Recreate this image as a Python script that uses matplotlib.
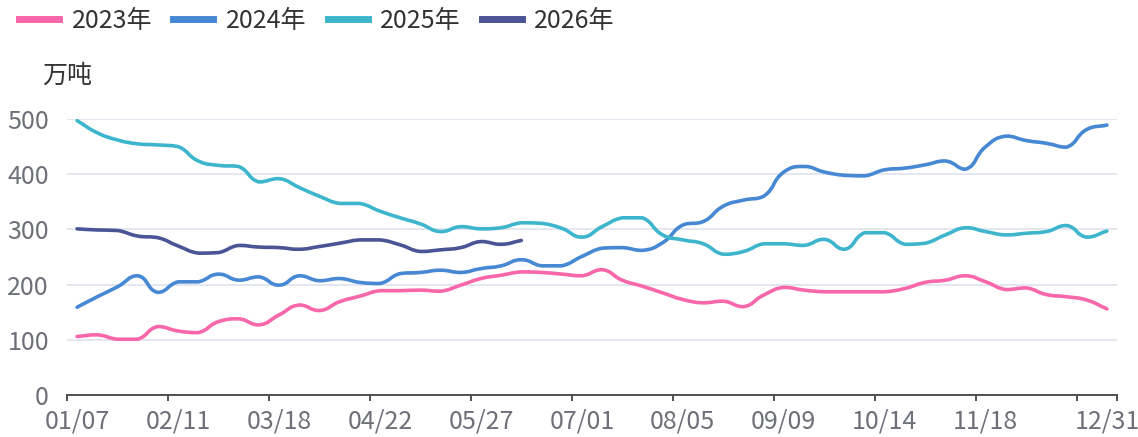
import matplotlib
matplotlib.use("Agg")
import matplotlib.pyplot as plt
from matplotlib.path import Path
from matplotlib.patches import PathPatch
from matplotlib.lines import Line2D
import numpy as np

plt.rcParams['font.family'] = ['Noto Sans CJK SC', 'DejaVu Sans']

# weekly categories (month/day)
weeks = ["01/07", "01/14", "01/21", "01/28", "02/04", "02/11", "02/18", "02/25",
         "03/04", "03/11", "03/18", "03/25", "04/01", "04/08", "04/15", "04/22",
         "04/29", "05/06", "05/13", "05/20", "05/27", "06/03", "06/10", "06/17",
         "06/24", "07/01", "07/08", "07/15", "07/22", "07/29", "08/05", "08/12",
         "08/19", "08/26", "09/02", "09/09", "09/16", "09/23", "09/30", "10/07",
         "10/14", "10/21", "10/28", "11/04", "11/11", "11/18", "11/25", "12/02",
         "12/09", "12/16", "12/23", "12/31"]
label_idx = [0, 5, 10, 15, 20, 25, 30, 35, 40, 45, 51]

y2023 = [106, 109, 101, 101, 124, 116, 113, 133, 138, 127, 145, 163, 153, 169, 179,
         189, 189, 190, 188, 199, 211, 217, 223, 222, 219, 216, 227, 208, 197, 185,
         173, 167, 170, 160, 181, 195, 190, 187, 187, 187, 187, 193, 204, 208, 216,
         205, 191, 194, 182, 178, 172, 156]
y2024 = [159, 178, 196, 216, 186, 205, 205, 219, 208, 214, 199, 216, 207, 211, 204,
         202, 220, 222, 226, 222, 229, 234, 245, 234, 234, 251, 266, 267, 262, 276,
         308, 314, 342, 353, 360, 404, 414, 404, 398, 397, 408, 411, 417, 424, 409,
         450, 469, 461, 456, 449, 481, 489]
y2025 = [497, 475, 462, 455, 453, 450, 424, 416, 414, 386, 392, 376, 360, 347, 347,
         333, 321, 310, 296, 305, 301, 303, 312, 311, 302, 286, 305, 321, 321, 290,
         281, 274, 255, 260, 274, 274, 271, 282, 264, 294, 294, 273, 275, 290, 303,
         296, 290, 293, 296, 307, 286, 297]
y2026 = [301, 299, 298, 288, 285, 270, 257, 258, 271, 268, 267, 264, 269, 275, 281,
         281, 272, 260, 263, 267, 278, 273, 280]

series = [("2023年", y2023, "#f767a9"),
          ("2024年", y2024, "#4688d4"),
          ("2025年", y2025, "#3db5cd"),
          ("2026年", y2026, "#4b5596")]

# pixel scale of the plot area, used so the smoothing behaves like echarts
SX, SY = 1050 / 52, 276 / 500


def smooth_path(vals, smooth=0.5):
    pts = [(i * SX, v * SY) for i, v in enumerate(vals)]
    n = len(pts)
    verts = [pts[0]]
    codes = [Path.MOVETO]
    for i in range(n - 1):
        # control point leaving point i
        x, y = pts[i]
        px, py = pts[i - 1] if i > 0 else pts[i]
        nx, ny = pts[i + 1]
        vx, vy = nx - px, ny - py
        lp = np.hypot(x - px, y - py)
        ln = np.hypot(nx - x, ny - y)
        r = ln / (ln + lp) if ln + lp > 0 else 0.5
        c1x = x + vx * smooth * r
        c1y = y + vy * smooth * r
        c1x = min(max(c1x, min(nx, x)), max(nx, x))
        c1y = min(max(c1y, min(ny, y)), max(ny, y))
        # control point arriving at point i+1
        x2, y2 = pts[i + 1]
        px2, py2 = pts[i]
        nx2, ny2 = pts[i + 2] if i + 2 < n else pts[i + 1]
        vx2, vy2 = nx2 - px2, ny2 - py2
        lp2 = np.hypot(x2 - px2, y2 - py2)
        ln2 = np.hypot(nx2 - x2, ny2 - y2)
        r2 = ln2 / (ln2 + lp2) if ln2 + lp2 > 0 else 0.5
        c0x = x2 - vx2 * smooth * (1 - r2)
        c0y = y2 - vy2 * smooth * (1 - r2)
        c0x = min(max(c0x, min(px2, x2)), max(px2, x2))
        c0y = min(max(c0y, min(py2, y2)), max(py2, y2))
        verts += [(c1x, c1y), (c0x, c0y), (x2, y2)]
        codes += [Path.CURVE4] * 3
    verts = [(a / SX, b / SY) for a, b in verts]
    return Path(verts, codes)


fig = plt.figure(figsize=(11.38, 4.37), dpi=100)
ax = fig.add_axes([67 / 1138, 42 / 437, 1050 / 1138, 276 / 437])

for name, vals, col in series:
    ax.add_patch(PathPatch(smooth_path(vals), fill=False, edgecolor=col, lw=2.6,
                           capstyle='round', joinstyle='round', zorder=3))

ax.set_xlim(-0.5, 51.5)
ax.set_ylim(0, 500)
ax.set_yticks([0, 100, 200, 300, 400, 500])
ax.grid(axis='y', color='#e0e3ee', lw=1.2)
ax.set_axisbelow(True)
for s in ['top', 'right', 'left']:
    ax.spines[s].set_visible(False)
ax.spines['bottom'].set_color('#444444')
ax.spines['bottom'].set_linewidth(1.3)

ax.set_xticks(list(np.arange(-0.5, 51, 5)) + [51.5])
ax.set_xticklabels([])
ax.set_xticks(label_idx, minor=True)
ax.set_xticklabels([weeks[i] for i in label_idx], minor=True)
ax.tick_params(axis='x', which='major', length=4, width=1.3, color='#444444')
ax.tick_params(axis='x', which='minor', length=0, pad=10, labelsize=18,
               labelcolor='#6e7079')
ax.tick_params(axis='y', length=0, pad=13, labelsize=18, labelcolor='#6e7079')

handles = [Line2D([], [], color=c, lw=5) for _, _, c in series]
fig.legend(handles, [s[0] for s in series], loc='upper left',
           bbox_to_anchor=(19 / 1138, 1 - 8 / 437), ncol=4, frameon=False,
           fontsize=18, handlelength=1.6, handletextpad=0.5, columnspacing=0.85,
           borderpad=0, borderaxespad=0, labelcolor='#333333')

fig.text(42 / 1138, 1 - 76 / 437, "万吨", fontsize=18, color='#333333',
         va='center', ha='left')

fig.savefig("out.png", dpi=100)
